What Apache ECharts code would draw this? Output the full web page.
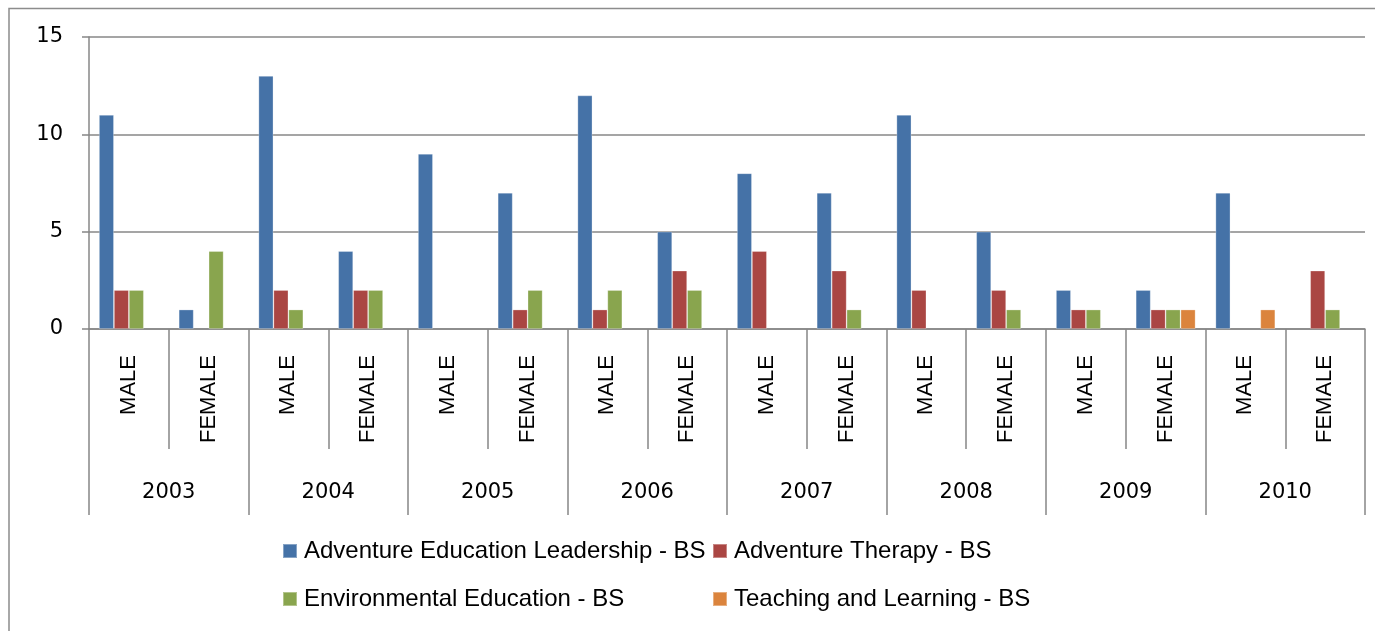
<!DOCTYPE html>
<html>
<head>
<meta charset="utf-8">
<script src="https://cdn.jsdelivr.net/npm/echarts@6/dist/echarts.min.js"></script>
<style>
html,body{margin:0;padding:0;background:#fff;}
#chart{width:1375px;height:631px;}
</style>
</head>
<body>
<div id="chart"></div>
<script>
var categories = ['MALE','FEMALE','MALE','FEMALE','MALE','FEMALE','MALE','FEMALE','MALE','FEMALE','MALE','FEMALE','MALE','FEMALE','MALE','FEMALE'];
var years = ['2003','2004','2005','2006','2007','2008','2009','2010'];
var seriesNames = ['Adventure Education Leadership - BS','Adventure Therapy - BS','Environmental Education - BS','Teaching and Learning - BS'];
var adventureEducation = [11,1,13,4,9,7,12,5,8,7,11,5,2,2,7,null];
var adventureTherapy = [2,null,2,2,null,1,1,3,4,3,2,2,1,1,null,3];
var environmentalEducation = [2,4,1,2,null,2,2,2,null,1,null,1,1,1,null,1];
var teachingLearning = [null,null,null,null,null,null,null,null,null,null,null,null,null,1,1,null];
var yTicks = [0,5,10,15];

var colors = ['#4572A7','#AA4643','#89A54E','#DB843D'];
var grey = '#878787';
var chart = echarts.init(document.getElementById('chart'));
var values = [adventureEducation, adventureTherapy, environmentalEducation, teachingLearning];

function legendAt(i, left, top){
  return {
    data:[seriesNames[i]], left:left, top:top, padding:0,
    itemWidth:14, itemHeight:14, icon:'rect', itemGap:0,
    selectedMode:false,
    textStyle:{fontFamily:'Liberation Sans', fontSize:24, color:'#000', padding:[0,0,0,2]}
  };
}

chart.setOption({
  animation:false,
  color:colors,
  graphic:[{type:'rect', shape:{x:9,y:8.5,width:1400,height:640}, style:{fill:'none', stroke:'#8c8c8c', lineWidth:1.5}, silent:true}],
  grid:{left:89, right:10, top:37, bottom:302, containLabel:false},
  legend:[legendAt(0,282,539), legendAt(1,712,539), legendAt(2,282,587), legendAt(3,712,587)],
  xAxis:[{
    type:'category', data:categories, position:'bottom',
    axisLine:{show:true, lineStyle:{color:grey, width:1.5}},
    axisTick:{show:true, interval:0, length:120, lineStyle:{color:grey, width:1.5}},
    axisLabel:{interval:0, rotate:90, margin:26, fontFamily:'Liberation Sans', fontSize:22, color:'#000'},
    splitLine:{show:false}
  },{
    type:'category', data:years, position:'bottom', offset:0,
    axisLine:{show:false},
    axisTick:{show:true, interval:0, length:186, lineStyle:{color:grey, width:1.5}},
    axisLabel:{interval:0, margin:153, fontFamily:'DejaVu Sans', fontSize:21, color:'#000'},
    splitLine:{show:false}
  }],
  yAxis:{
    type:'value', min:yTicks[0], max:yTicks[yTicks.length-1], interval:5,
    axisLine:{show:true, lineStyle:{color:grey, width:1.5}},
    axisTick:{show:true, length:7, lineStyle:{color:grey, width:1.5}},
    axisLabel:{margin:26, fontFamily:'DejaVu Sans', fontSize:21, color:'#000'},
    splitLine:{show:true, lineStyle:{color:grey, width:1.5}}
  },
  series: values.map(function(v,i){
    return {type:'bar', name:seriesNames[i], data:v, xAxisIndex:0, barGap:'0%', barCategoryGap:'25%',
      itemStyle:{color:colors[i], borderColor:'rgba(255,255,255,0.35)', borderWidth:0.8}};
  })
});
</script>
</body>
</html>
